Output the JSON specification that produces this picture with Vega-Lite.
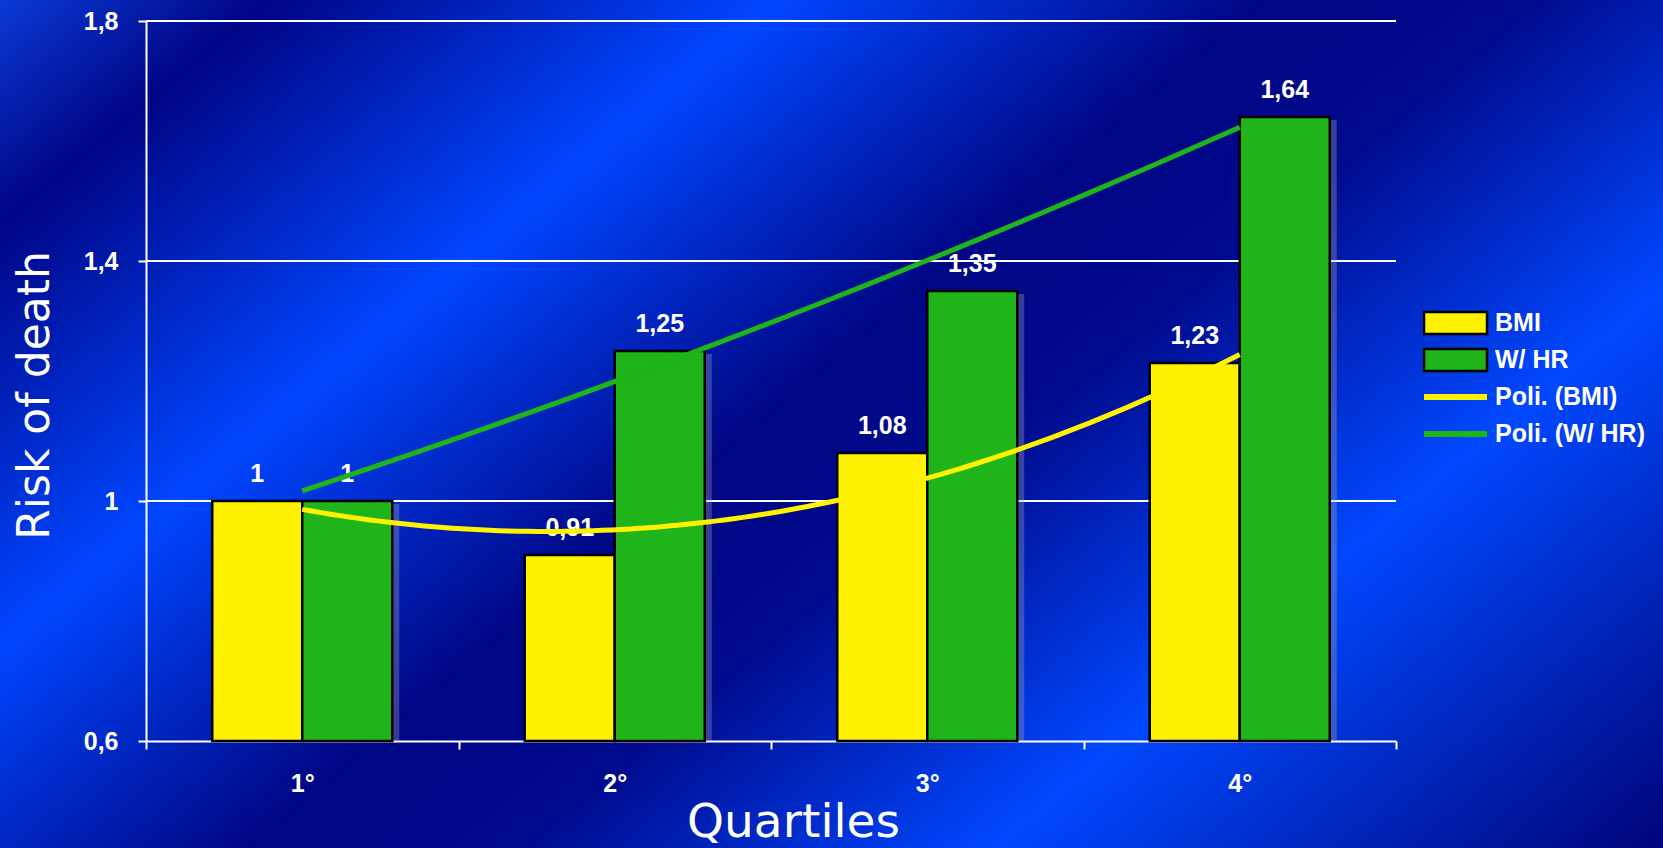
{
  "$schema": "https://vega.github.io/schema/vega-lite/v6.json",
  "width": 1663,
  "height": 848,
  "autosize": {"type": "none"},
  "padding": 0,
  "background": "#0022b0",
  "datasets": {
    "risk": [
      {"quartile": "1°", "q": 1, "series": "BMI", "trend": "Poli. (BMI)", "risk": 1},
      {"quartile": "1°", "q": 1, "series": "W/ HR", "trend": "Poli. (W/ HR)", "risk": 1},
      {"quartile": "2°", "q": 2, "series": "BMI", "trend": "Poli. (BMI)", "risk": 0.91},
      {"quartile": "2°", "q": 2, "series": "W/ HR", "trend": "Poli. (W/ HR)", "risk": 1.25},
      {"quartile": "3°", "q": 3, "series": "BMI", "trend": "Poli. (BMI)", "risk": 1.08},
      {"quartile": "3°", "q": 3, "series": "W/ HR", "trend": "Poli. (W/ HR)", "risk": 1.35},
      {"quartile": "4°", "q": 4, "series": "BMI", "trend": "Poli. (BMI)", "risk": 1.23},
      {"quartile": "4°", "q": 4, "series": "W/ HR", "trend": "Poli. (W/ HR)", "risk": 1.64}
    ],
    "grid": [{"risk": 1}, {"risk": 1.4}, {"risk": 1.8}]
  },
  "layer": [
    {
      "data": {"name": "grid"},
      "mark": {"type": "rule", "color": "#ffffff", "strokeWidth": 2},
      "encoding": {
        "x": {
          "datum": 0.5,
          "type": "quantitative",
          "scale": {"domain": [0.5, 4.5], "range": [146, 1396], "nice": false, "zero": false},
          "axis": {"domain": false, "ticks": false, "labels": false, "grid": false, "title": null}
        },
        "x2": {"datum": 4.5},
        "y": {"field": "risk", "type": "quantitative"}
      }
    },
    {
      "data": {"name": "risk"},
      "encoding": {
        "x": {
          "field": "quartile",
          "type": "nominal",
          "scale": {"range": [146, 1396], "paddingInner": 0, "paddingOuter": 0},
          "axis": {
            "orient": "bottom",
            "offset": -107,
            "title": "Quartiles",
            "labelAngle": 0,
            "tickBand": "extent",
            "labelPadding": 22,
            "titleX": 793,
            "titleY": 95,
            "titleBaseline": "alphabetic",
            "titleFont": "DejaVu Sans",
            "titleFontSize": 47,
            "titleFontWeight": "normal"
          }
        },
        "y": {
          "field": "risk",
          "type": "quantitative",
          "scale": {"domain": [0.6, 1.8], "range": [741, 21], "nice": false, "zero": false},
          "axis": {
            "orient": "left",
            "offset": -146,
            "values": [0.6, 1, 1.4, 1.8],
            "format": ".1~f",
            "labelPadding": 20,
            "title": "Risk of death",
            "titleX": -98,
            "titleY": 395,
            "titleAngle": 270,
            "titleAlign": "center",
            "titleBaseline": "alphabetic",
            "titleFont": "DejaVu Sans",
            "titleFontSize": 44,
            "titleFontWeight": "normal"
          }
        }
      },
      "layer": [
        {
          "transform": [{"filter": "datum.series === 'W/ HR'"}],
          "mark": {"type": "rule", "strokeWidth": 14, "color": "#a0a0b8", "opacity": 0.35, "yOffset": 3},
          "encoding": {
            "x": {"field": "quartile", "type": "nominal", "bandPosition": 0.788},
            "y2": {"datum": 0.6}
          }
        },
        {
          "mark": {"type": "bar", "stroke": "#000000", "strokeWidth": 2.5, "opacity": 1},
          "encoding": {
            "xOffset": {
              "field": "series",
              "type": "nominal",
              "sort": ["BMI", "W/ HR"],
              "scale": {"paddingInner": 0, "paddingOuter": 0.736}
            },
            "y2": {"datum": 0.6},
            "fill": {
              "field": "series",
              "type": "nominal",
              "scale": {"domain": ["BMI", "W/ HR"], "range": ["#fff200", "#1fb419"]},
              "legend": {
                "title": null,
                "orient": "none",
                "legendX": 1422.5,
                "legendY": 309,
                "clipHeight": 28,
                "rowPadding": 9,
                "symbolType": "M-1,-0.35H1V0.35H-1Z",
                "symbolSize": 3969,
                "symbolStrokeColor": "#000000",
                "symbolStrokeWidth": 2.5,
                "symbolOpacity": 1,
                "labelOffset": 6.5,
                "labelLimit": 300,
                "labelFont": "Liberation Sans",
                "labelFontWeight": "bold",
                "labelFontSize": 25,
                "labelColor": "#ffffff",
                "labelBaseline": "middle"
              }
            }
          }
        },
        {
          "mark": {
            "type": "text",
            "dy": -19,
            "baseline": "alphabetic",
            "font": "Liberation Sans",
            "fontWeight": "bold",
            "fontSize": 25,
            "color": "#ffffff"
          },
          "encoding": {
            "xOffset": {"field": "series", "type": "nominal", "sort": ["BMI", "W/ HR"]},
            "text": {"field": "risk", "type": "quantitative", "format": ".2~f"}
          }
        }
      ]
    },
    {
      "data": {"name": "risk"},
      "transform": [
        {"regression": "risk", "on": "q", "groupby": ["trend"], "method": "poly", "order": 2}
      ],
      "mark": {"type": "line", "strokeWidth": 5},
      "encoding": {
        "x": {
          "field": "q",
          "type": "quantitative",
          "scale": {"domain": [0.5, 4.5], "range": [146, 1396], "nice": false, "zero": false},
          "axis": {"domain": false, "ticks": false, "labels": false, "grid": false, "title": null}
        },
        "y": {"field": "risk", "type": "quantitative"},
        "stroke": {
          "field": "trend",
          "type": "nominal",
          "scale": {"domain": ["Poli. (BMI)", "Poli. (W/ HR)"], "range": ["#fff200", "#1fb419"]},
          "legend": {
            "title": null,
            "orient": "none",
            "legendX": 1421,
            "legendY": 383,
            "clipHeight": 28,
            "rowPadding": 9,
            "symbolType": "stroke",
            "symbolSize": 3969,
            "symbolStrokeWidth": 6,
            "symbolOpacity": 1,
            "labelOffset": 5,
            "labelLimit": 300,
            "labelFont": "Liberation Sans",
            "labelFontWeight": "bold",
            "labelFontSize": 25,
            "labelColor": "#ffffff",
            "labelBaseline": "middle"
          }
        }
      }
    }
  ],
  "resolve": {"scale": {"x": "independent"}},
  "config": {
    "view": {
      "stroke": null,
      "fill": {
        "gradient": "linear",
        "x1": 0, "y1": 0, "x2": 1.173, "y2": 0.718,
        "stops": [
          {"offset": 0, "color": "#0a3ad6"},
          {"offset": 0.1, "color": "#000585"},
          {"offset": 0.29, "color": "#0046ff"},
          {"offset": 0.47, "color": "#000785"},
          {"offset": 0.57, "color": "#000a8c"},
          {"offset": 0.75, "color": "#0048ff"},
          {"offset": 0.99, "color": "#00077e"}
        ]
      }
    },
    "locale": {
      "number": {"decimal": ",", "thousands": ".", "grouping": [3], "currency": ["€", ""]}
    },
    "axis": {
      "grid": false,
      "domainColor": "#ffffff",
      "domainWidth": 2,
      "tickColor": "#ffffff",
      "tickWidth": 2,
      "tickSize": 8,
      "labelColor": "#ffffff",
      "labelFont": "Liberation Sans",
      "labelFontWeight": "bold",
      "labelFontSize": 25,
      "titleColor": "#ffffff"
    }
  }
}
